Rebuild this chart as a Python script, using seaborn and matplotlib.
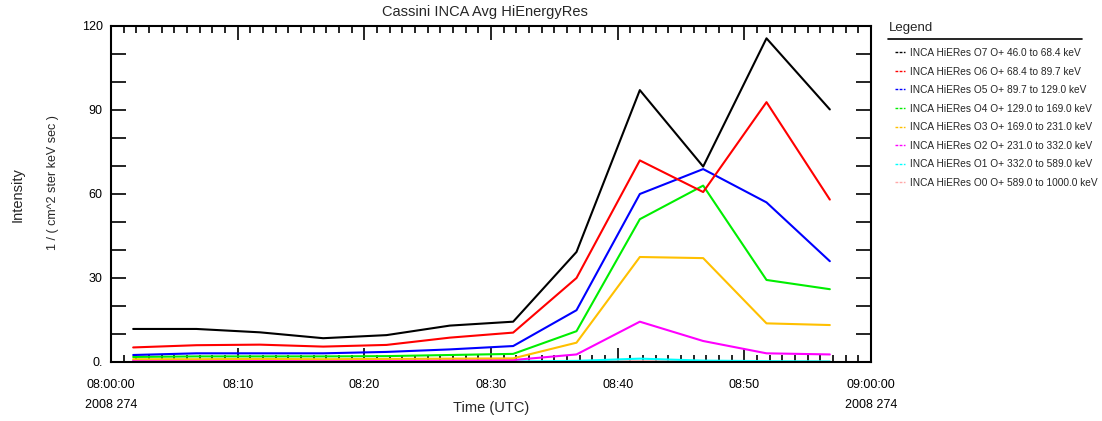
import numpy as np
import pandas as pd
import matplotlib
matplotlib.use("Agg")
import matplotlib.pyplot as plt
import matplotlib.dates as mdates
from matplotlib.lines import Line2D
from matplotlib.ticker import MultipleLocator, FuncFormatter
import seaborn as sns

times = pd.date_range("2008-09-30 08:01:45", periods=12, freq="5min")

labels = [
    "INCA HiERes O7 O+ 46.0 to 68.4 keV",
    "INCA HiERes O6 O+ 68.4 to 89.7 keV",
    "INCA HiERes O5 O+ 89.7 to 129.0 keV",
    "INCA HiERes O4 O+ 129.0 to 169.0 keV",
    "INCA HiERes O3 O+ 169.0 to 231.0 keV",
    "INCA HiERes O2 O+ 231.0 to 332.0 keV",
    "INCA HiERes O1 O+ 332.0 to 589.0 keV",
    "INCA HiERes O0 O+ 589.0 to 1000.0 keV",
]
colors = ["#000000", "#ff0000", "#0000ff", "#00ee00", "#ffc000", "#ff00ff", "#00ffff", "#ffa8a8"]

o7 = [11.8, 11.8, 10.6, 8.5, 9.6, 13.0, 14.4, 39.3, 97.1, 69.8, 115.6, 90.2]
o6 = [5.2, 6.0, 6.2, 5.5, 6.1, 8.7, 10.5, 30.0, 72.0, 60.7, 92.8, 58.0]
o5 = [2.5, 3.1, 3.1, 3.1, 3.6, 4.5, 5.7, 18.5, 60.0, 68.9, 57.0, 36.0]
o4 = [1.8, 2.0, 2.0, 2.0, 2.1, 2.5, 2.9, 11.0, 51.0, 63.0, 29.3, 26.0]
o3 = [1.0, 1.0, 1.1, 1.0, 1.1, 1.2, 1.3, 6.9, 37.5, 37.1, 13.8, 13.2]
o2 = [0.5, 0.5, 0.5, 0.5, 0.5, 0.6, 0.7, 2.7, 14.4, 7.5, 3.1, 2.7]
o1 = [0.1, 0.1, 0.1, 0.1, 0.1, 0.1, 0.2, 0.4, 1.2, 0.5, 0.3, 0.2]
o0 = [0.1, 0.1, 0.1, 0.1, 0.1, 0.1, 0.1, 0.2, 0.3, 0.2, 0.1, 0.1]
series = [o7, o6, o5, o4, o3, o2, o1, o0]

rows = []
for lab, vals in zip(labels, series):
    for t, v in zip(times, vals):
        rows.append({"time": t, "value": v, "channel": lab})
df = pd.DataFrame(rows)

sns.set_style("ticks")
plt.rcParams["font.family"] = ["Liberation Sans", "DejaVu Sans"]

fig = plt.figure(figsize=(11.02, 4.21), dpi=100)
ax = fig.add_axes([111/1102, 59/421, 760/1102, 336/421])

sns.lineplot(data=df, x="time", y="value", hue="channel", hue_order=labels[::-1],
             palette=dict(zip(labels, colors)), ax=ax, legend=False, linewidth=1.5,
             estimator=None, sort=False)

ax.set_xlim(pd.Timestamp("2008-09-30 08:00:00"), pd.Timestamp("2008-09-30 09:00:00"))
ax.set_ylim(0, 120)
ax.yaxis.set_major_locator(MultipleLocator(30))
ax.yaxis.set_minor_locator(MultipleLocator(10))
ax.yaxis.set_major_formatter(FuncFormatter(lambda v, p: "0." if v == 0 else f"{int(v)}"))

ax.xaxis.set_major_locator(mdates.MinuteLocator(byminute=range(0, 60, 10)))
ax.xaxis.set_minor_locator(mdates.MinuteLocator())

def xfmt(v, p):
    d = mdates.num2date(v)
    if d.minute == 0:
        return d.strftime("%H:%M:%S") + "\n2008 274"
    return d.strftime("%H:%M")
ax.xaxis.set_major_formatter(FuncFormatter(xfmt))

for s in ax.spines.values():
    s.set_visible(True)
    s.set_color("black")
    s.set_linewidth(1.5)

ax.tick_params(axis="both", which="both", direction="in", top=True, right=True,
               bottom=True, left=True, labelsize=9, colors="black", width=1.2)
ax.tick_params(axis="x", which="major", length=10, pad=12)
ax.tick_params(axis="x", which="minor", length=5)
ax.tick_params(axis="y", which="both", length=11, pad=6)
for lbl in ax.get_xticklabels():
    lbl.set_linespacing(1.9)

ax.set_xlabel("")
ax.set_ylabel("")
fig.text(485/1102, 1 - 12/421, "Cassini INCA Avg HiEnergyRes", ha="center", va="center", fontsize=10.5)
fig.text(491/1102, 1 - 408/421, "Time (UTC)", ha="center", va="center", fontsize=10.5)

fig.text(18/1102, 1 - 195/421, "Intensity", rotation=90, ha="center", va="center", fontsize=10.5)
fig.text(53/1102, 1 - 183/421, "1 / ( cm^2 ster keV sec )", rotation=90, ha="center", va="center", fontsize=9)

fig.text(889/1102, 1 - 28/421, "Legend", ha="left", va="center", fontsize=9.5)
fig.add_artist(Line2D([888/1102, 1082/1102], [1 - 39/421, 1 - 39/421], color="black", lw=1.2,
                      transform=fig.transFigure))

handles = [Line2D([0], [0], color=c, lw=1.0, linestyle=(0, (2, 1))) for c in colors]
fig.legend(handles, labels, loc="upper left", bbox_to_anchor=(895/1102, 1 - 48/421),
           frameon=False, fontsize=7.3, handlelength=1.0, handletextpad=0.5,
           labelspacing=0.84, borderaxespad=0, borderpad=0)

fig.savefig("out.png", dpi=100)
